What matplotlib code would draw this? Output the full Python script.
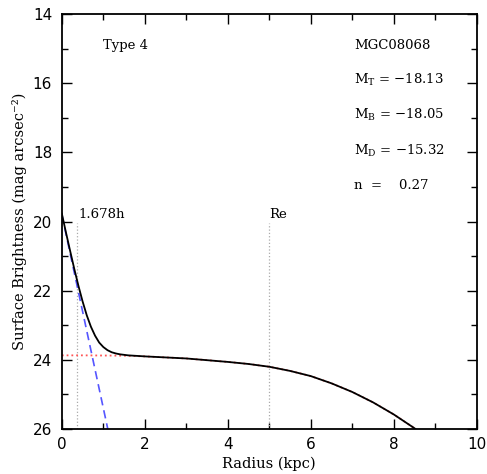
import matplotlib
matplotlib.use('Agg')
import matplotlib.pyplot as plt
from matplotlib.ticker import MultipleLocator

# total profile (black)
total_r = [0.0, 0.1, 0.2, 0.3, 0.4, 0.5, 0.6, 0.7, 0.8, 0.9, 1.0, 1.1, 1.2,
           1.3, 1.4, 1.6, 2.0, 2.5, 3.0, 3.5, 4.0, 4.5, 5.0, 5.5, 6.0, 6.5,
           7.0, 7.5, 8.0, 8.5, 8.55]
total_mu = [19.77, 20.32, 20.85, 21.37, 21.86, 22.31, 22.71, 23.04, 23.30,
            23.50, 23.63, 23.72, 23.78, 23.815, 23.84, 23.87, 23.90, 23.93,
            23.96, 24.01, 24.06, 24.12, 24.20, 24.32, 24.47, 24.68, 24.93,
            25.23, 25.58, 25.98, 26.03]

# bulge (red dotted)
bulge_r = [0.0, 0.5, 1.0, 1.5, 2.0, 2.5, 3.0, 3.5, 4.0, 4.5, 5.0, 5.5, 6.0,
           6.5, 7.0, 7.5, 8.0, 8.5, 8.55]
bulge_mu = [23.87, 23.87, 23.875, 23.88, 23.90, 23.93, 23.96, 24.01, 24.06,
            24.12, 24.20, 24.32, 24.47, 24.68, 24.93, 25.23, 25.58, 25.98, 26.03]

# disk (blue dashed)
disk_r = [0.0, 1.107]
disk_mu = [19.8, 26.0]

h_mark = 0.36
re_mark = 5.0
mark_top = 20.05

labels = ['MGC08068', 'M$_\\mathregular{T}$ = \u221218.13',
          'M$_\\mathregular{B}$ = \u221218.05',
          'M$_\\mathregular{D}$ = \u221215.32', 'n  =    0.27']
label_y = [14.9, 15.9, 16.9, 17.95, 18.95]

fig = plt.figure(figsize=(4.87, 4.74), dpi=100)
ax = fig.add_axes([0.127, 0.095, 0.852, 0.875])

ax.plot([h_mark, h_mark], [26, mark_top], color='#aaaaaa', ls=':', lw=0.9)
ax.plot([re_mark, re_mark], [26, mark_top], color='#aaaaaa', ls=':', lw=0.9)
ax.plot(bulge_r, bulge_mu, color='#ff5555', ls=':', lw=1.3)
ax.plot(disk_r, disk_mu, color='#5555ff', ls=(0, (5, 3)), lw=1.2)
ax.plot(total_r, total_mu, color='black', lw=1.3)

ax.set_xlim(0, 10)
ax.set_ylim(26, 14)

ax.xaxis.set_major_locator(MultipleLocator(2))
ax.xaxis.set_minor_locator(MultipleLocator(1))
ax.yaxis.set_major_locator(MultipleLocator(2))
ax.yaxis.set_minor_locator(MultipleLocator(1))
ax.tick_params(which='both', direction='in', top=True, right=True,
               labelsize=11, width=1.0)
ax.tick_params(which='major', length=7)
ax.tick_params(which='minor', length=4)
ax.tick_params(axis='x', pad=6)
ax.tick_params(axis='y', pad=7)
for s in ax.spines.values():
    s.set_linewidth(1.3)

tf = dict(family='DejaVu Serif', fontsize=9.5)
ax.text(0.99, 14.9, 'Type 4', va='center', **tf)
for t, y in zip(labels, label_y):
    ax.text(7.04, y, t, va='center', **tf)
ax.text(0.4, 19.8, '1.678h', va='center', **tf)
ax.text(5.0, 19.8, 'Re', va='center', **tf)

ax.set_xlabel('Radius (kpc)', family='DejaVu Serif', fontsize=10.5, labelpad=3)
ax.set_ylabel('Surface Brightness (mag arcsec\u207b\u00b2)',
              family='DejaVu Serif', fontsize=10.5, labelpad=4)

plt.savefig('out.png', dpi=100)
